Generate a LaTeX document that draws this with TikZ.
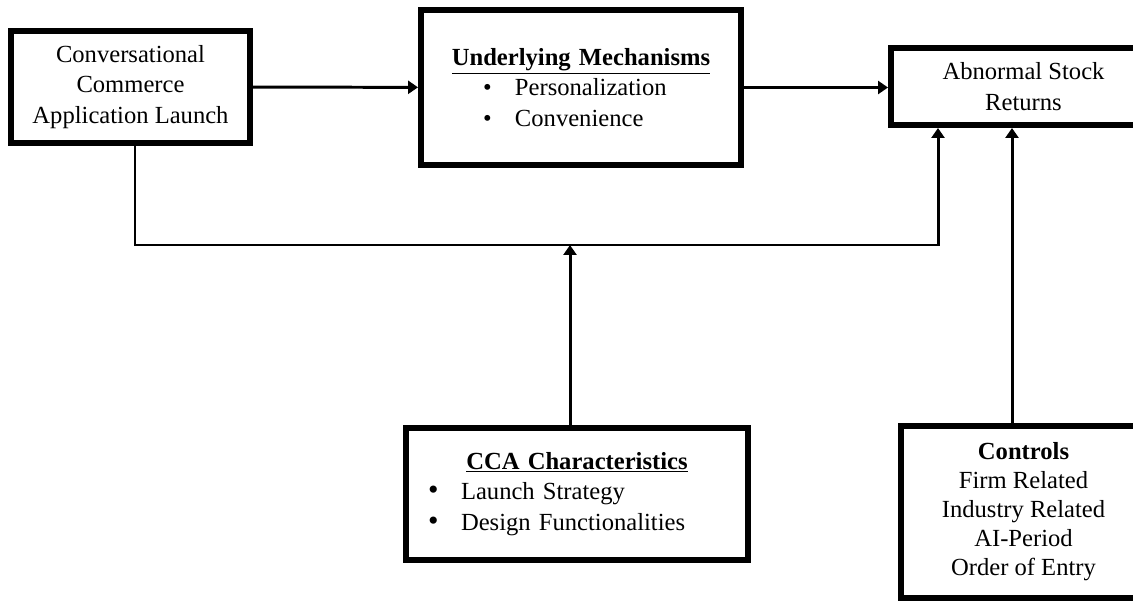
\documentclass[tikz,border=0pt]{standalone}
\usepackage{fontspec}
\setmainfont{Liberation Serif}
\usepackage{tikz}
\usetikzlibrary{positioning,calc,arrows.meta}
\definecolor{InkBlack}{HTML}{000000}

\begin{document}
\begin{tikzpicture}[
  modelbox/.style={draw=InkBlack, line width=3.4pt, fill=white, align=center, inner sep=0pt,
    font=\fontsize{14}{17.5}\selectfont},
  link/.style={draw=InkBlack, line width=1.7pt, -{Triangle[length=0.2cm,width=0.26cm]}}
]
  \useasboundingbox (0,0) rectangle (22.66,12.06);

  % Top row: launch -> mechanisms -> returns
  \node[modelbox, minimum width=4.78cm, minimum height=2.24cm] (launch) at (2.61,10.32)
    {Conversational\\Commerce\\Application Launch};
  \node[modelbox, minimum width=6.4cm, minimum height=3.1cm, text width=5.16cm, align=left] (mech) at (11.62,10.31)
    {\makebox[5.16cm]{\underline{\textbf{Underlying Mechanisms}}}\\
     \hspace*{0.62cm}\makebox[0.64cm][l]{\textbullet}Personalization\\
     \hspace*{0.62cm}\makebox[0.64cm][l]{\textbullet}Convenience};
  \node[modelbox, minimum width=5.3cm, minimum height=1.54cm] (returns) at (20.47,10.33)
    {Abnormal Stock\\Returns};

  % Bottom row: moderators and controls
  \node[modelbox, minimum width=6.84cm, minimum height=2.64cm, text width=5.96cm, align=left] (chars) at (11.54,2.18)
    {\makebox[5.96cm]{\underline{\textbf{CCA Characteristics}}}\\
     \makebox[0.66cm][l]{{\fontsize{17}{17}\selectfont\textbullet}}Launch Strategy\\
     \makebox[0.66cm][l]{{\fontsize{17}{17}\selectfont\textbullet}}Design Functionalities};
  \node[modelbox, minimum width=4.9cm, minimum height=3.44cm, font=\fontsize{14}{16.5}\selectfont] (ctrl) at (20.47,1.82)
    {\textbf{Controls}\\Firm Related\\Industry Related\\AI-Period\\Order of Entry};

  % Helper points on the moderation line
  \coordinate (bus) at (11.4,7.16);
  \coordinate (retleft) at ($(returns.south)+(-1.71,0)$);
  \coordinate (retmid) at ($(returns.south)+(-0.23,0)$);

  % Connectors
  \draw[link] (launch) -- (mech);
  \draw[link] (mech.east) -- (mech.east -| returns.west);
  \draw[link] ($(launch.south)+(0.09,0)$) |- (bus) -| (retleft);
  \draw[link] (chars.north -| bus) -- (bus);
  \draw[link] (ctrl.north -| retmid) -- (retmid);
\end{tikzpicture}
\end{document}
